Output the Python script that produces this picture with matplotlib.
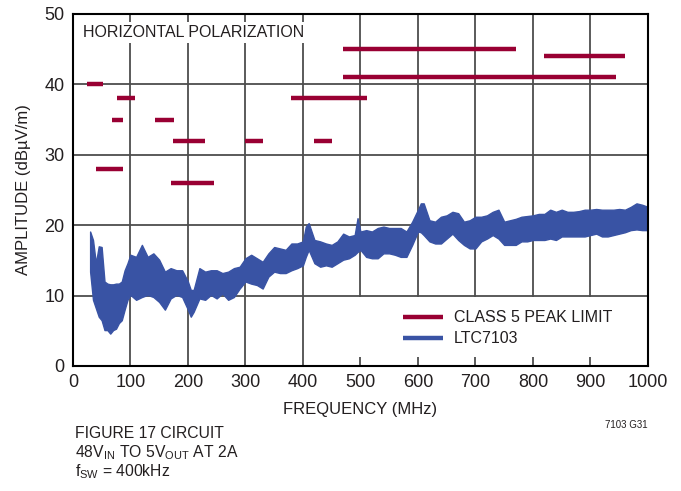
import matplotlib
matplotlib.use('Agg')
import matplotlib.pyplot as plt
import numpy as np

plt.rcParams['font.family'] = ['Liberation Sans', 'DejaVu Sans']
plt.rcParams['mathtext.fontset'] = 'custom'
plt.rcParams['mathtext.rm'] = 'Liberation Sans'
plt.rcParams['mathtext.it'] = 'Liberation Sans'

# class 5 peak limit segments: (start MHz, stop MHz, level dBuV/m)
limit_start = [25, 76, 68, 142, 174, 300, 420, 41, 171, 380, 470, 470, 820]
limit_stop = [53, 108, 87, 175, 230, 330, 450, 88, 245, 512, 770, 944, 960]
limit_level = [40, 38, 35, 35, 32, 32, 32, 28, 26, 38, 45, 41, 44]

# LTC7103 emission envelope
freq = [30, 35, 40, 45, 50, 55, 60, 65, 70, 75, 80, 85, 90, 95, 100, 110, 120, 130,
        140, 150, 160, 170, 180, 190, 200, 205, 210, 220, 230, 240, 250, 260, 270,
        280, 290, 300, 310, 320, 330, 340, 350, 360, 370, 380, 390, 400, 405, 410,
        420, 430, 440, 450, 460, 470, 480, 490, 495, 500, 510, 520, 530, 540, 550,
        560, 570, 580, 590, 600, 605, 610, 620, 630, 640, 650, 660, 670, 680, 690,
        700, 710, 720, 730, 740, 750, 760, 770, 780, 790, 800, 810, 820, 830, 840,
        850, 860, 870, 880, 890, 900, 910, 920, 930, 940, 950, 960, 970, 980, 990, 1000]
amp_hi = [19.1, 17.9, 14.6, 17.0, 16.9, 12.0, 11.7, 11.6, 11.6, 11.7, 11.7, 12.0, 13.6,
          14.6, 15.8, 15.5, 17.2, 15.5, 16.0, 15.1, 13.4, 13.9, 13.6, 13.6, 12.0, 10.8,
          10.8, 13.9, 13.4, 13.6, 13.6, 13.2, 13.4, 13.9, 14.1, 15.3, 15.8, 15.3, 14.8,
          16.0, 16.9, 16.7, 16.5, 17.4, 17.4, 17.7, 19.8, 20.3, 17.9, 17.7, 17.4, 17.2,
          17.7, 18.8, 18.4, 18.6, 21.0, 19.1, 19.3, 19.1, 19.6, 19.8, 19.6, 19.6, 19.6,
          19.1, 20.5, 22.2, 23.1, 23.1, 20.7, 20.5, 21.2, 21.4, 21.9, 21.7, 20.5, 20.7,
          21.2, 21.2, 21.4, 21.9, 22.2, 20.5, 20.7, 20.9, 21.2, 21.3, 21.4, 21.6, 21.6,
          22.2, 21.9, 22.2, 21.9, 21.9, 22.0, 22.2, 22.2, 22.3, 22.2, 22.2, 22.2, 22.3,
          22.2, 22.6, 23.1, 22.9, 22.6]
amp_lo = [13.4, 9.4, 8.2, 7.0, 6.5, 5.1, 5.1, 4.6, 5.1, 5.3, 6.1, 6.5, 8.0,
          9.4, 10.1, 9.4, 9.8, 10.1, 9.8, 9.1, 8.0, 9.6, 10.1, 9.8, 8.0, 7.0,
          7.7, 9.6, 9.4, 10.1, 9.6, 10.3, 9.4, 9.8, 11.0, 12.0, 11.7, 11.5, 11.0,
          12.7, 13.4, 13.2, 13.2, 13.6, 13.9, 14.3, 15.5, 16.5, 14.6, 14.1, 14.3, 14.1,
          14.6, 15.1, 15.3, 15.8, 16.2, 16.5, 15.5, 15.3, 15.3, 16.0, 16.0, 15.8, 15.5,
          15.5, 17.2, 19.1, 19.0, 18.6, 17.7, 17.4, 17.4, 18.1, 18.8, 17.9, 17.2, 16.7,
          16.7, 17.7, 18.1, 18.6, 18.1, 17.2, 17.2, 17.2, 17.7, 17.7, 17.9, 17.9, 17.9,
          18.1, 17.9, 18.4, 18.4, 18.4, 18.4, 18.4, 18.6, 18.8, 18.4, 18.4, 18.6, 18.8,
          19.0, 19.3, 19.4, 19.3, 19.3]

text_col = '#231f20'
limit_col = '#990033'
trace_col = '#3953a4'

fig = plt.figure(figsize=(6.81, 4.91), dpi=100)
ax = fig.add_axes([0.107, 0.2546, 0.8445, 0.7169])

ax.fill_between(freq, amp_lo, amp_hi, color=trace_col, lw=1.0,
                edgecolor=trace_col, zorder=3)

for i in range(len(limit_level)):
    ax.plot([limit_start[i], limit_stop[i]], [limit_level[i], limit_level[i]],
            color=limit_col, lw=3.2, solid_capstyle='butt', zorder=4)

ax.set_xlim(0, 1000)
ax.set_ylim(0, 50)
ax.set_xticks(np.arange(0, 1001, 100))
ax.set_yticks(np.arange(0, 51, 10))
ax.grid(True, color='#4d4d4d', lw=1.3)
ax.set_axisbelow(True)
ax.tick_params(length=0, labelsize=13, colors=text_col, pad=6)
for s in ax.spines.values():
    s.set_linewidth(1.5)
    s.set_color('black')
    s.set_zorder(6)

ax.set_xlabel('FREQUENCY (MHz)', fontsize=12, color=text_col, labelpad=8)
ax.set_ylabel('AMPLITUDE (dBµV/m)', fontsize=12, color=text_col, labelpad=10)

ax.text(0.017, 0.948, 'HORIZONTAL POLARIZATION', transform=ax.transAxes, fontsize=11.5,
        color=text_col, va='center',
        bbox=dict(facecolor='white', edgecolor='none', pad=2), zorder=6)

# legend drawn by hand on a white patch
ax.add_patch(plt.Rectangle((0.49, 0.026), 0.51, 0.17, transform=ax.transAxes,
                           facecolor='white', edgecolor='none', zorder=5))
ax.plot([0.574, 0.643], [0.139, 0.139], transform=ax.transAxes, color=limit_col,
        lw=3.2, solid_capstyle='butt', zorder=6)
ax.plot([0.574, 0.643], [0.0795, 0.0795], transform=ax.transAxes, color=trace_col,
        lw=3.2, solid_capstyle='butt', zorder=6)
ax.text(0.663, 0.139, 'CLASS 5 PEAK LIMIT', transform=ax.transAxes, fontsize=11.5,
        color=text_col, va='center', zorder=6)
ax.text(0.663, 0.0795, 'LTC7103', transform=ax.transAxes, fontsize=11.5,
        color=text_col, va='center', zorder=6)

fig.text(0.110, 0.118, 'FIGURE 17 CIRCUIT', fontsize=11.3, color=text_col, va='center')
fig.text(0.110, 0.078, r'48V$_{\mathrm{IN}}$ TO 5V$_{\mathrm{OUT}}$ AT 2A', fontsize=11.3,
         color=text_col, va='center')
fig.text(0.110, 0.040, r'f$_{\mathrm{SW}}$ = 400kHz', fontsize=11.3, color=text_col, va='center')
fig.text(0.951, 0.135, '7103 G31', fontsize=7, color=text_col, ha='right', va='center')

fig.savefig('out.png', dpi=100)
